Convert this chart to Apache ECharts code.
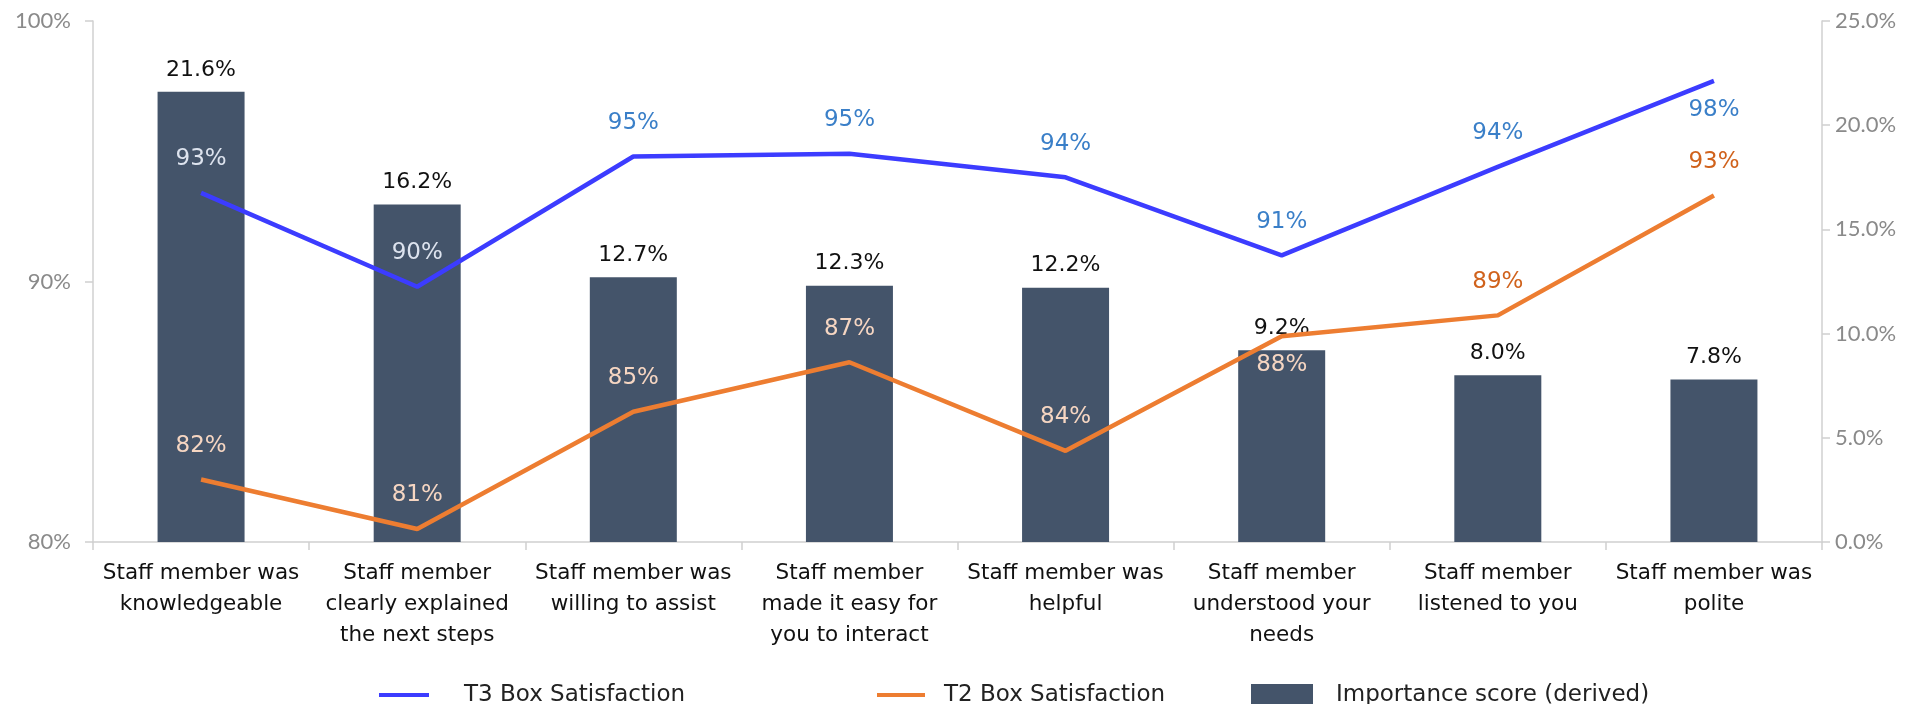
<!DOCTYPE html>
<html lang="en">
  <head>
    <meta charset="UTF-8" />
    <title>Staff satisfaction vs importance</title>
    <script src="https://cdn.jsdelivr.net/npm/echarts@6/dist/echarts.min.js"></script>
    <style>
      html, body { margin: 0; padding: 0; background: #fff; }
      #main { width: 1921px; height: 704px; }
    </style>
  </head>
  <body>
    <div id="main"></div>

    <script>
      // data
      var categories = [
        "Staff member was\nknowledgeable",
        "Staff member\nclearly explained\nthe next steps",
        "Staff member was\nwilling to assist",
        "Staff member\nmade it easy for\nyou to interact",
        "Staff member was\nhelpful",
        "Staff member\nunderstood your\nneeds",
        "Staff member\nlistened to you",
        "Staff member was\npolite"
      ];
      var t3Values = [93.4, 89.8, 94.8, 94.9, 94.0, 91.0, 94.4, 97.7];
      var t2Values = [82.4, 80.5, 85.0, 86.9, 83.5, 87.9, 88.7, 93.3];
      var importance = [21.6, 16.2, 12.7, 12.3, 12.2, 9.2, 8.0, 7.8];

      var FONT = "DejaVu Sans";
      var AXIS_FONT = "Lato";
      var chart = echarts.init(document.getElementById("main"));

      // label colours: light when the label sits on a bar
      var t3LabelIn = [true, true, false, false, false, false, false, false];
      var t2LabelIn = [true, true, true, true, true, true, false, false];

      var t3Data = t3Values.map(function (v, i) {
        var item = { value: v, label: { color: t3LabelIn[i] ? "#dde3ee" : "#3a7fc8" } };
        if (i === 7) {
          item.label.position = "bottom";
          item.label.distance = 18;
        }
        return item;
      });
      var t2Data = t2Values.map(function (v, i) {
        var item = { value: v, label: { color: t2LabelIn[i] ? "#f6d6c2" : "#d0621c" } };
        if (i === 5) {
          item.label.position = "bottom";
          item.label.distance = 17;
        }
        return item;
      });

      var axisLine = { show: true, lineStyle: { color: "#d0d0d0", width: 1.5 } };
      var axisTick = { show: true, length: 8, lineStyle: { color: "#d0d0d0", width: 1.5 } };
      var axisLabelStyle = { color: "#8a8a8a", fontFamily: AXIS_FONT, fontSize: 22 };

      var legendText = { color: "#222", fontFamily: FONT, fontSize: 23, lineHeight: 26 };
      function legend(left, name, w, h, gap) {
        return {
          left: left, top: 677, data: [name], icon: "rect",
          itemWidth: w, itemHeight: h,
          textStyle: Object.assign({}, legendText, { padding: [0, 0, 0, gap] })
        };
      }

      var option = {
        animation: false,
        grid: { left: 93, right: 99, top: 21, bottom: 162 },
        legend: [
          legend(374, "T3 Box Satisfaction", 50, 4, 30),
          legend(872, "T2 Box Satisfaction", 48, 4, 14),
          legend(1246, "Importance score (derived)", 62, 22, 18)
        ],
        xAxis: {
          type: "category",
          data: categories,
          axisLine: axisLine,
          axisTick: axisTick,
          axisLabel: {
            color: "#111", fontFamily: FONT, fontSize: 21.5, lineHeight: 31,
            margin: 16, interval: 0
          }
        },
        yAxis: [
          {
            type: "value", min: 80, max: 100, interval: 10,
            splitLine: { show: false },
            axisLine: axisLine, axisTick: axisTick,
            axisLabel: Object.assign({}, axisLabelStyle, { margin: 22, formatter: "{value}%" })
          },
          {
            type: "value", min: 0, max: 25, interval: 5,
            splitLine: { show: false },
            axisLine: axisLine, axisTick: axisTick,
            axisLabel: Object.assign({}, axisLabelStyle, {
              margin: 13,
              formatter: function (v) { return v.toFixed(1) + "%"; }
            })
          }
        ],
        series: [
          {
            name: "Importance score (derived)",
            type: "bar",
            yAxisIndex: 1,
            barWidth: 87,
            data: importance,
            itemStyle: { color: "#44546a" },
            label: {
              show: true, position: "top", distance: 11,
              color: "#111", fontFamily: FONT, fontSize: 22,
              formatter: function (p) { return p.value.toFixed(1) + "%"; }
            },
            z: 1
          },
          {
            name: "T3 Box Satisfaction",
            type: "line",
            yAxisIndex: 0,
            data: t3Data,
            symbol: "circle",
            symbolSize: 0,
            showSymbol: true,
            lineStyle: { color: "#3c3cff", width: 4.5 },
            itemStyle: { color: "#3c3cff" },
            label: {
              show: true, position: "top", distance: 22,
              fontFamily: FONT, fontSize: 23,
              formatter: function (p) { return Math.round(p.value) + "%"; }
            },
            z: 3
          },
          {
            name: "T2 Box Satisfaction",
            type: "line",
            yAxisIndex: 0,
            data: t2Data,
            symbol: "circle",
            symbolSize: 0,
            showSymbol: true,
            lineStyle: { color: "#ed7d31", width: 4.5 },
            itemStyle: { color: "#ed7d31" },
            label: {
              show: true, position: "top", distance: 22,
              fontFamily: FONT, fontSize: 23,
              formatter: function (p) { return Math.round(p.value) + "%"; }
            },
            z: 3
          }
        ]
      };

      chart.setOption(option);
    </script>
  </body>
</html>
